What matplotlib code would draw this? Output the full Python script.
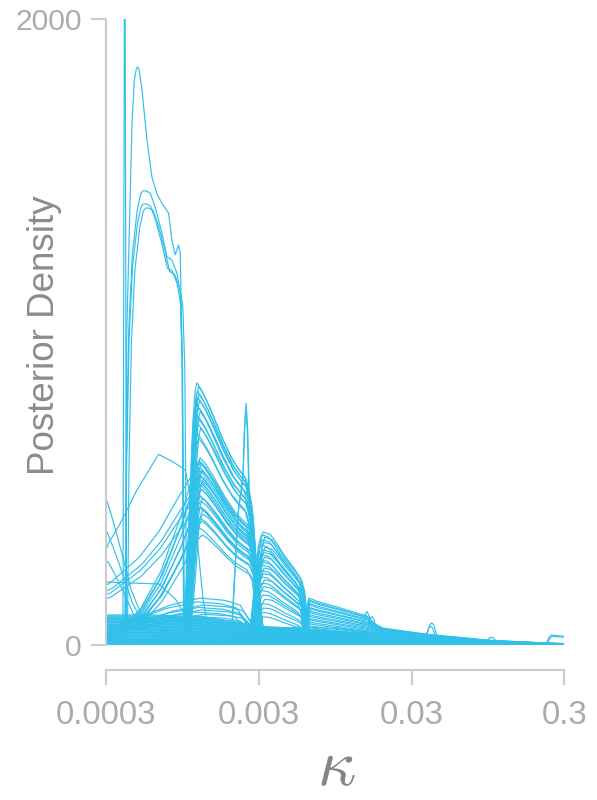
import numpy as np
import matplotlib
matplotlib.use("Agg")
import matplotlib.pyplot as plt

# ---------------- data ----------------
x_ticks = [0.0003, 0.003, 0.03, 0.3]
x_tick_labels = ["0.0003", "0.003", "0.03", "0.3"]
y_ticks = [0, 2000]
y_tick_labels = ["0", "2000"]

# Each family: peak position (kappa), peak density, and a shape given as
# offsets (in decades of kappa from the peak) with the fraction of the peak.

# very narrow spike that runs off the top
spike_kappa = [0.000398]
spike_height = [2600]
spike_off = [-0.012, 0.0, 0.012]
spike_frac = [0.0, 1.0, 0.0]

# tallest smooth curve
big_kappa = [0.000483]
big_height = [1847]
big_off = [-0.0784, -0.0719, -0.0366, -0.0216, -0.008, 0.0, 0.01, 0.0288, 0.0614,
           0.0941, 0.127, 0.1595, 0.2026, 0.2248, 0.2464, 0.268, 0.2791, 0.2902, 0.302]
big_frac = [0.0, 0.53, 0.903, 0.977, 0.997, 1.0, 0.995, 0.96, 0.874,
            0.809, 0.78, 0.764, 0.747, 0.70, 0.675, 0.692, 0.678, 0.527, 0.0]

# three curves near 1400-1450
tall_kappa = [0.0005236, 0.000526, 0.000545]
tall_height = [1451, 1409, 1396]
tall_off = [-0.119, -0.109, -0.0928, -0.0699, -0.0373, -0.015, 0.0, 0.02, 0.0477,
            0.0804, 0.1242, 0.1569, 0.1895, 0.2222, 0.2438, 0.2569, 0.2699]
tall_frac = [0.0, 0.407, 0.693, 0.859, 0.958, 0.993, 1.0, 1.0, 0.995,
             0.964, 0.907, 0.855, 0.848, 0.819, 0.775, 0.628, 0.0]

# upper group near kappa 0.0012
upper_kappa = [0.00118, 0.00121, 0.00119, 0.00122, 0.00120, 0.00123, 0.00117, 0.00121,
               0.00124, 0.00119, 0.00122, 0.00120, 0.00125, 0.00118, 0.00121]
upper_height = [838, 826, 812, 801, 790, 781, 770, 758, 746, 733, 720, 706, 692, 676, 660]
steep_off = [-0.098, -0.0784, -0.0523, -0.0261, -0.011, 0.0, 0.0327, 0.065, 0.098,
             0.1634, 0.2288, 0.2745, 0.3137, 0.3464, 0.3726, 0.3987, 0.4183]
steep_frac = [0.0, 0.1, 0.45, 0.85, 0.97, 1.0, 0.97, 0.93, 0.885,
              0.79, 0.71, 0.67, 0.64, 0.55, 0.30, 0.08, 0.0]

# lower group near kappa 0.00124 (steep left side)
lower_kappa = [0.00124, 0.00121, 0.00126, 0.00123, 0.00127, 0.00122, 0.00125,
               0.00128, 0.00124, 0.00126, 0.00123, 0.00127, 0.00129, 0.00125]
lower_height = [598, 588, 578, 568, 558, 548, 538, 526, 512, 498, 478, 458, 432, 405]

# lower group with long left tails
tail_kappa = [0.00125, 0.00128, 0.00123, 0.00126, 0.00129, 0.00124, 0.00130, 0.00127,
              0.00122, 0.00128]
tail_height = [585, 556, 527, 498, 468, 438, 418, 396, 375, 352]
tail_off = [-0.719, -0.5229, -0.3922, -0.2614, -0.1307, -0.0523, 0.0, 0.0327, 0.098,
            0.1634, 0.2288, 0.2745, 0.3137, 0.3464, 0.3726, 0.3987, 0.4183]
tail_frac = [0.02, 0.08, 0.2, 0.4, 0.7, 0.92, 1.0, 0.97, 0.885,
             0.79, 0.71, 0.67, 0.64, 0.55, 0.30, 0.08, 0.0]

wide_kappa = [0.00122, 0.00127, 0.00124, 0.00126]
wide_height = [560, 515, 475, 440]
wide_off = [-0.719, -0.5882, -0.3922, -0.2614, -0.1307, -0.0523, 0.0, 0.0327, 0.098,
            0.1634, 0.2288, 0.2745, 0.3137, 0.3464, 0.3726, 0.3987, 0.4183]
wide_frac = [0.3, 0.35, 0.5, 0.65, 0.85, 0.96, 1.0, 0.97, 0.885,
             0.79, 0.71, 0.67, 0.64, 0.55, 0.30, 0.08, 0.0]

# narrow spike near kappa 0.0025
spike2_kappa = [0.002479, 0.00247]
spike2_height = [773, 758]
spike2_off = [-0.098, -0.0523, -0.0196, -0.0098, 0.0, 0.0098, 0.0196, 0.0523, 0.085, 0.1046]
spike2_frac = [0.0, 0.55, 0.7, 0.9, 1.0, 0.9, 0.65, 0.45, 0.1, 0.0]

# group near kappa 0.0032
mid_kappa = [0.00320, 0.00312, 0.00328, 0.00316, 0.00324, 0.00308, 0.00330, 0.00318,
             0.00322, 0.00314, 0.00326, 0.00310, 0.00320, 0.00317, 0.00325, 0.00313,
             0.00321, 0.00309, 0.00327, 0.00315, 0.00323, 0.00311, 0.00319, 0.00329,
             0.00316, 0.00322, 0.00313, 0.00318]
mid_height = [361, 352, 344, 336, 328, 320, 312, 304, 296, 288, 280, 272, 264, 255,
              246, 237, 228, 218, 208, 198, 186, 174, 160, 146, 132, 118, 104, 90]
mid_off = [-0.0915, -0.0654, -0.0458, -0.0196, 0.0, 0.0458, 0.09, 0.1307, 0.1961,
           0.2418, 0.2614, 0.2745, 0.2876, 0.3007]
mid_frac = [0.0, 0.2, 0.5, 0.9, 1.0, 0.98, 0.9, 0.81, 0.69, 0.60, 0.50, 0.30, 0.08, 0.0]

# group near kappa 0.0064 with long right tails
right_kappa = [0.00640, 0.00632, 0.00648, 0.00636, 0.00644, 0.00628, 0.00652, 0.00638,
               0.00646, 0.00634, 0.00642, 0.00630, 0.00650, 0.00637, 0.00645, 0.00633,
               0.00641, 0.00639, 0.00647, 0.00635]
right_height = [150, 145, 140, 134, 128, 122, 116, 110, 104, 98, 92, 86, 80, 74, 68,
                62, 56, 50, 44, 38]
right_off = [-0.0327, -0.0131, 0.0, 0.0523, 0.183, 0.3137, 0.3791, 0.4314, 0.4837,
             0.7712, 1.183, 1.575, 1.673]
right_frac = [0.0, 0.6, 1.0, 0.93, 0.81, 0.68, 0.62, 0.45, 0.36, 0.23, 0.1, 0.04, 0.03]

# small bumps in the tail
bump_kappa = [0.01531, 0.01651, 0.0407, 0.0400, 0.1000]
bump_height = [107, 91, 71, 60, 25]
bump_off = [-0.0523, -0.0261, -0.0131, 0.0, 0.0131, 0.0261, 0.0523]
bump_frac = [0.0, 0.6, 0.9, 1.0, 0.9, 0.6, 0.0]

end_kappa = [0.2468, 0.250]
end_height = [32, 28]
end_off = [-0.0392, -0.0131, 0.0, 0.0261, 0.0654, 0.1046]
end_frac = [0.0, 0.8, 1.0, 0.95, 0.9, 0.85]

# dense low band across the whole range
band_kappa = 0.0003
band_height = [96, 93, 90, 87, 85, 82, 80, 77, 75, 72, 70, 67, 65, 62, 60, 57, 55, 52,
               50, 47, 45, 42, 40, 37, 35, 32, 30, 27, 25, 22, 20, 18, 16, 14, 12, 10,
               8, 6, 4, 2]
band_off = [-0.0327, 0.2941, 0.6209, 0.817, 1.0131, 1.2745, 1.5359, 1.7974, 2.1242,
            2.5163, 3.0065]
band_frac = [1.0, 1.0, 0.95, 0.8, 0.62, 0.55, 0.45, 0.35, 0.2, 0.08, 0.03]

# low arcs near kappa 0.0012
arc_kappa = [0.00124, 0.00118, 0.00130, 0.00121, 0.00127, 0.00115, 0.00133, 0.00124]
arc_height = [150, 138, 128, 120, 112, 105, 98, 90]
arc_off = [-0.6536, -0.3922, -0.1961, 0.0, 0.1634, 0.2614, 0.3268, 0.3791, 0.4575,
           0.9804, 2.3856]
arc_frac = [0.3, 0.6, 0.85, 1.0, 0.95, 0.85, 0.5, 0.15, 0.05, 0.02, 0.005]

# broad low curves centred near kappa 0.0056
broad_kappa = [0.005586]
broad_height = [58, 55, 52, 49, 46, 43, 40, 36, 32, 28]
broad_off = [-1.2745, -0.6536, -0.2614, 0.0, 0.2614, 0.5229, 0.8497, 1.2418, 1.732]
broad_frac = [0.1, 0.3, 0.8, 1.0, 0.9, 0.6, 0.3, 0.1, 0.03]

# curves starting high at the left edge
edge_kappa = [0.0003, 0.000305, 0.00031]
edge_height = [470, 360, 265]
edge_off = [-0.02, 0.0, 0.0392, 0.0784, 0.1176, 0.1634, 0.2288, 0.3268, 0.5229,
            0.7843, 1.3072, 3.0065]
edge_frac = [1.02, 1.0, 0.87, 0.72, 0.57, 0.38, 0.21, 0.128, 0.085, 0.064, 0.032, 0.004]

# angular curve peaking near kappa 0.00066
angular_kappa = [0.000662]
angular_height = [609]
angular_off = [-0.3484, -0.3268, -0.2503, -0.1412, 0.0, 0.0961, 0.1745, 0.2399,
               0.2922, 0.3379, 0.3706]
angular_frac = [0.49, 0.534, 0.639, 0.813, 1.0, 0.96, 0.918, 0.657, 0.236, 0.026, 0.0]

# flat line from the left edge
flat_kappa = [0.0003]
flat_height = [201]
flat_off = [-0.02, 0.0, 0.3464, 0.4575, 0.5556, 0.6536, 0.719]
flat_frac = [1.0, 1.0, 0.97, 0.72, 0.32, 0.08, 0.0]

# ---------------- drawing ----------------
COL = "#31C0EA"
LW = 0.85
AXC = "#CCCCCC"
TXC = "#ABABAB"

plt.rcParams["font.family"] = ["Liberation Sans", "DejaVu Sans"]
plt.rcParams["mathtext.fontset"] = "cm"

fig = plt.figure(figsize=(5.97, 8.0), dpi=100)
ax = fig.add_axes([106 / 597, 1 - 645 / 800, 458.3 / 597, 626 / 800])
ax.set_xscale("log")


def draw(kappas, heights, offs, fracs):
    offs = np.asarray(offs, dtype=float)
    fracs = np.asarray(fracs, dtype=float)
    if np.isscalar(kappas):
        kappas = [kappas] * len(heights)
    for k, h in zip(kappas, heights):
        ax.plot(k * 10 ** offs, h * fracs, color=COL, lw=LW,
                solid_joinstyle="round", solid_capstyle="round")


draw(band_kappa, band_height, band_off, band_frac)
draw(broad_kappa, broad_height, broad_off, broad_frac)
draw(arc_kappa, arc_height, arc_off, arc_frac)
draw(right_kappa, right_height, right_off, right_frac)
draw(bump_kappa, bump_height, bump_off, bump_frac)
draw(end_kappa, end_height, end_off, end_frac)
draw(mid_kappa, mid_height, mid_off, mid_frac)
draw(lower_kappa, lower_height, steep_off, steep_frac)
draw(tail_kappa, tail_height, tail_off, tail_frac)
draw(wide_kappa, wide_height, wide_off, wide_frac)
draw(upper_kappa, upper_height, steep_off, steep_frac)
draw(spike2_kappa, spike2_height, spike2_off, spike2_frac)
draw(edge_kappa, edge_height, edge_off, edge_frac)
draw(angular_kappa, angular_height, angular_off, angular_frac)
draw(flat_kappa, flat_height, flat_off, flat_frac)
draw(tall_kappa, tall_height, tall_off, tall_frac)
draw(big_kappa, big_height, big_off, big_frac)
draw(spike_kappa, spike_height, spike_off, spike_frac)

ax.set_xlim(0.0003, 0.3)
ax.set_ylim(0, 2000)

for s in ["top", "right"]:
    ax.spines[s].set_visible(False)
ax.spines["left"].set_color(AXC)
ax.spines["left"].set_linewidth(1.5)
ax.spines["left"].set_bounds(0, 2000)
ax.spines["bottom"].set_color(AXC)
ax.spines["bottom"].set_linewidth(1.5)
ax.spines["bottom"].set_position(("outward", 18))
ax.spines["bottom"].set_bounds(0.0003, 0.3)

ax.set_xticks(x_ticks)
ax.set_xticklabels(x_tick_labels)
ax.xaxis.set_minor_locator(matplotlib.ticker.NullLocator())
ax.set_yticks(y_ticks)
ax.set_yticklabels(y_tick_labels)

ax.tick_params(axis="both", which="major", length=10.8, width=1.5, color=AXC,
               labelcolor=TXC)
ax.tick_params(axis="y", labelsize=21.6, pad=6.5)
ax.tick_params(axis="x", labelsize=23.8, pad=11)

fig.text(45 / 597, 1 - 335 / 800, "Posterior Density", rotation=90, ha="center",
         va="center", fontsize=26.5, color="#8C8C8C")
fig.text(336 / 597, 1 - 799 / 800, r"$\kappa$", ha="center", va="bottom",
         fontsize=48, color="#858585")

fig.savefig("out.png", dpi=100)
